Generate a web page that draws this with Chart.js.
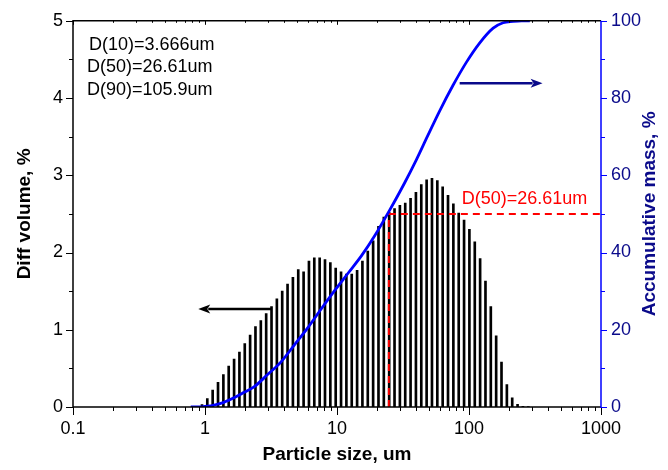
<!DOCTYPE html>
<html>
<head>
<meta charset="utf-8">
<script src="https://cdn.jsdelivr.net/npm/chart.js@4.4.0/dist/chart.umd.min.js"></script>
<style>
  html, body { margin: 0; padding: 0; background: #fff; }
  #wrap { width: 668px; height: 470px; }
</style>
</head>
<body>
<div id="wrap"><canvas id="chart-psd" width="668" height="470"></canvas></div>
<script>
// particle size distribution: diff volume bars + cumulative curve

// bin sizes (um) of the diff volume bars
const binSizes = [
  0.864, 0.949, 1.041, 1.143, 1.255, 1.378, 1.512, 1.661, 1.823, 2.001,
  2.197, 2.412, 2.648, 2.907, 3.191, 3.503, 3.845, 4.221, 4.634, 5.087,
  5.585, 6.131, 6.730, 7.389, 8.111, 8.904, 9.775, 10.73, 11.78, 12.93,
  14.20, 15.58, 17.11, 18.78, 20.62, 22.63, 24.85, 27.28, 29.95, 32.88,
  36.09, 39.62, 43.50, 47.75, 52.42, 57.54, 63.17, 69.34, 76.13, 83.57,
  91.75, 100.7, 110.6, 121.4, 133.3, 146.3, 160.6, 176.3, 193.6, 212.5,
  233.3, 256.1, 281.2
];
// diff volume, %
const diffVolume = [
  0.01, 0.03, 0.11, 0.22, 0.32, 0.42, 0.53, 0.62, 0.71, 0.82,
  0.93, 1.04, 1.12, 1.21, 1.30, 1.40, 1.50, 1.59, 1.68, 1.78,
  1.75, 1.89, 1.93, 1.93, 1.91, 1.87, 1.80, 1.75, 1.72, 1.72,
  1.77, 1.89, 2.02, 2.15, 2.34, 2.46, 2.52, 2.57, 2.61, 2.64,
  2.70, 2.78, 2.88, 2.94, 2.96, 2.93, 2.85, 2.74, 2.63, 2.51,
  2.42, 2.30, 2.14, 1.92, 1.63, 1.30, 0.92, 0.58, 0.29, 0.12,
  0.035, 0.01, 0.005
];

// cumulative curve
const cumSizes = [0.78, 0.95, 1.05, 1.17, 1.39, 1.66, 1.98, 2.35, 2.98, 3.77,
  4.76, 6.0, 7.63, 9.62, 12.16, 15.35, 19.36, 25.0, 32.5, 39.9,
  48.6, 60.0, 75.7, 95.7, 120.7, 152.4, 181.3, 215.8, 250, 289];
const cumMass = [0, 0.05, 0.2, 0.5, 1.2, 2.4, 3.8, 5.2, 8.4, 11.7,
  16.1, 20.5, 25.5, 30.2, 34.7, 39.2, 44.4, 50.9, 58.0, 64.0,
  70.2, 76.7, 83.3, 89.3, 94.3, 98.1, 99.5, 99.85, 100, 100];

const xTickValues = [0.1, 1, 10, 100, 1000];
const leftTickValues = [0, 1, 2, 3, 4, 5];
const rightTickValues = [0, 20, 40, 60, 80, 100];

const dTexts = ['D(10)=3.666um', 'D(50)=26.61um', 'D(90)=105.9um'];
const d50Text = 'D(50)=26.61um';
const d50Size = 24.7;   // where the dashed line meets the curve on the plot
const d50Level = 2.5;   // 50 % on the right axis

const FONT = '"Liberation Sans", Arial, sans-serif';
const NAVY = '#0a0a8a';

function drawArrow(ctx, x1, y1, x2, y2, color) {
  const ang = Math.atan2(y2 - y1, x2 - x1);
  const hl = 12, hw = 4.5;
  ctx.strokeStyle = color;
  ctx.fillStyle = color;
  ctx.lineWidth = 2.5;
  ctx.beginPath();
  ctx.moveTo(x1, y1);
  ctx.lineTo(x2 - Math.cos(ang) * (hl - 2), y2 - Math.sin(ang) * (hl - 2));
  ctx.stroke();
  ctx.beginPath();
  ctx.moveTo(x2, y2);
  ctx.lineTo(x2 - Math.cos(ang) * hl - Math.sin(ang) * hw, y2 - Math.sin(ang) * hl + Math.cos(ang) * hw);
  ctx.lineTo(x2 - Math.cos(ang) * hl * 0.75, y2 - Math.sin(ang) * hl * 0.75);
  ctx.lineTo(x2 - Math.cos(ang) * hl + Math.sin(ang) * hw, y2 - Math.sin(ang) * hl - Math.cos(ang) * hw);
  ctx.closePath();
  ctx.fill();
}

const framePlugin = {
  id: 'frame',
  afterDatasetsDraw(chart) {
    const { ctx, chartArea: a, scales } = chart;
    const sx = scales.x, sy = scales.y, sy2 = scales.y2;
    ctx.save();

    // frame
    ctx.lineWidth = 1.5;
    ctx.strokeStyle = '#000';
    ctx.beginPath();
    ctx.moveTo(a.right, a.top); ctx.lineTo(a.left, a.top);
    ctx.lineTo(a.left, a.bottom); ctx.lineTo(a.right, a.bottom);
    ctx.stroke();
    ctx.strokeStyle = '#0000ff';
    ctx.beginPath();
    ctx.moveTo(a.right, a.top); ctx.lineTo(a.right, a.bottom + 1);
    ctx.stroke();

    // x ticks (bottom outward, top inward)
    ctx.lineWidth = 1;
    ctx.strokeStyle = '#000';
    ctx.beginPath();
    for (let d = 0.1; d < 1000; d *= 10) {
      for (let m = 1; m < 10; m++) {
        const px = Math.round(sx.getPixelForValue(d * m)) + 0.5;
        const len = m === 1 ? 8 : 4;
        ctx.moveTo(px, a.bottom); ctx.lineTo(px, a.bottom + len);
        ctx.moveTo(px, a.top); ctx.lineTo(px, a.top + (m === 1 ? 4 : 2));
      }
    }
    const pEnd = Math.round(sx.getPixelForValue(1000)) + 0.5;
    ctx.moveTo(pEnd, a.bottom); ctx.lineTo(pEnd, a.bottom + 8);
    ctx.stroke();

    // left ticks
    ctx.beginPath();
    for (let v = 0; v <= 5; v += 0.5) {
      const py = Math.round(sy.getPixelForValue(v)) + 0.5;
      const len = Number.isInteger(v) ? 7 : 4;
      ctx.moveTo(a.left, py); ctx.lineTo(a.left - len, py);
    }
    ctx.stroke();

    // right ticks
    ctx.strokeStyle = '#0000ff';
    ctx.beginPath();
    for (let v = 0; v <= 100; v += 10) {
      const py = Math.round(sy2.getPixelForValue(v)) + 0.5;
      const len = v % 20 === 0 ? 6 : 4;
      ctx.moveTo(a.right, py); ctx.lineTo(a.right + len, py);
    }
    ctx.stroke();

    // arrows
    const ya = sy.getPixelForValue(1.27);
    drawArrow(ctx, sx.getPixelForValue(3.22), ya, sx.getPixelForValue(0.889), ya, '#000');
    const yb = sy2.getPixelForValue(83.8);
    drawArrow(ctx, sx.getPixelForValue(85), yb, sx.getPixelForValue(361), yb, NAVY);

    // text notes
    ctx.font = '18px ' + FONT;
    ctx.fillStyle = '#000';
    ctx.textBaseline = 'middle';
    ctx.textAlign = 'left';
    ctx.fillText(dTexts[0], a.left + 16, a.top + 24);
    ctx.fillText(dTexts[1], a.left + 14, a.top + 46);
    ctx.fillText(dTexts[2], a.left + 14, a.top + 69);

    ctx.fillStyle = '#ff0000';
    ctx.fillText(d50Text, sx.getPixelForValue(85) + 2, sy.getPixelForValue(d50Level) - 15);

    // right axis title, reading bottom to top
    ctx.font = 'bold 19px ' + FONT;
    ctx.fillStyle = NAVY;
    ctx.textAlign = 'center';
    ctx.translate(650, (a.top + a.bottom) / 2);
    ctx.rotate(-Math.PI / 2);
    ctx.fillText('Accumulative mass, %', 0, 0);
    ctx.restore();
  }
};

new Chart(document.getElementById('chart-psd').getContext('2d'), {
  type: 'bar',
  data: {
    datasets: [
      {
        type: 'line',
        label: 'Accumulative mass',
        data: cumSizes.map((s, i) => ({ x: s, y: cumMass[i] })),
        yAxisID: 'y2',
        borderColor: '#0000ff',
        borderWidth: 2.8,
        pointRadius: 0,
        cubicInterpolationMode: 'monotone',
        order: 1
      },
      {
        type: 'line',
        label: 'D50 vertical',
        data: [{ x: d50Size, y: 0 }, { x: d50Size, y: d50Level }],
        yAxisID: 'y',
        borderColor: '#ff0000',
        borderWidth: 2,
        borderDash: [7, 5],
        pointRadius: 0,
        order: 2
      },
      {
        type: 'line',
        label: 'D50 horizontal',
        data: [{ x: d50Size, y: d50Level }, { x: 1000, y: d50Level }],
        yAxisID: 'y',
        borderColor: '#ff0000',
        borderWidth: 2,
        borderDash: [7, 5],
        pointRadius: 0,
        order: 2
      },
      {
        label: 'Diff volume',
        data: binSizes.map((s, i) => ({ x: s, y: diffVolume[i] })),
        yAxisID: 'y',
        backgroundColor: '#000',
        borderWidth: 0,
        barThickness: 2,
        order: 3
      }
    ]
  },
  options: {
    responsive: false,
    animation: false,
    layout: { padding: { top: 20, left: 0, right: 0, bottom: 0 } },
    plugins: { legend: { display: false }, tooltip: { enabled: false } },
    scales: {
      x: {
        type: 'logarithmic',
        min: 0.1,
        max: 1000,
        grid: { display: false, drawTicks: false },
        border: { display: false },
        afterBuildTicks: (scale) => { scale.ticks = xTickValues.map(v => ({ value: v })); },
        afterFit: (scale) => { scale.height = 63; },
        ticks: {
          autoSkip: false,
          maxRotation: 0,
          padding: 11,
          color: '#000',
          font: { size: 18, family: FONT },
          callback: (v) => String(v)
        },
        title: {
          display: true,
          text: 'Particle size, um',
          color: '#000',
          padding: { top: 0, bottom: 4 },
          font: { size: 19, weight: 'bold', family: FONT }
        }
      },
      y: {
        position: 'left',
        min: 0,
        max: 5,
        grid: { display: false, drawTicks: false },
        border: { display: false },
        afterBuildTicks: (scale) => { scale.ticks = leftTickValues.map(v => ({ value: v })); },
        afterFit: (scale) => { scale.width = 73; },
        ticks: { padding: 10, color: '#000', font: { size: 18, family: FONT } },
        title: {
          display: true,
          text: 'Diff volume, %',
          color: '#000',
          padding: { top: 13, bottom: 0 },
          font: { size: 19, weight: 'bold', family: FONT }
        }
      },
      y2: {
        position: 'right',
        min: 0,
        max: 100,
        grid: { display: false, drawTicks: false },
        border: { display: false },
        afterBuildTicks: (scale) => { scale.ticks = rightTickValues.map(v => ({ value: v })); },
        afterFit: (scale) => { scale.width = 67; },
        ticks: { padding: 10, color: NAVY, font: { size: 18, family: FONT } }
      }
    }
  },
  plugins: [framePlugin]
});
</script>
</body>
</html>
